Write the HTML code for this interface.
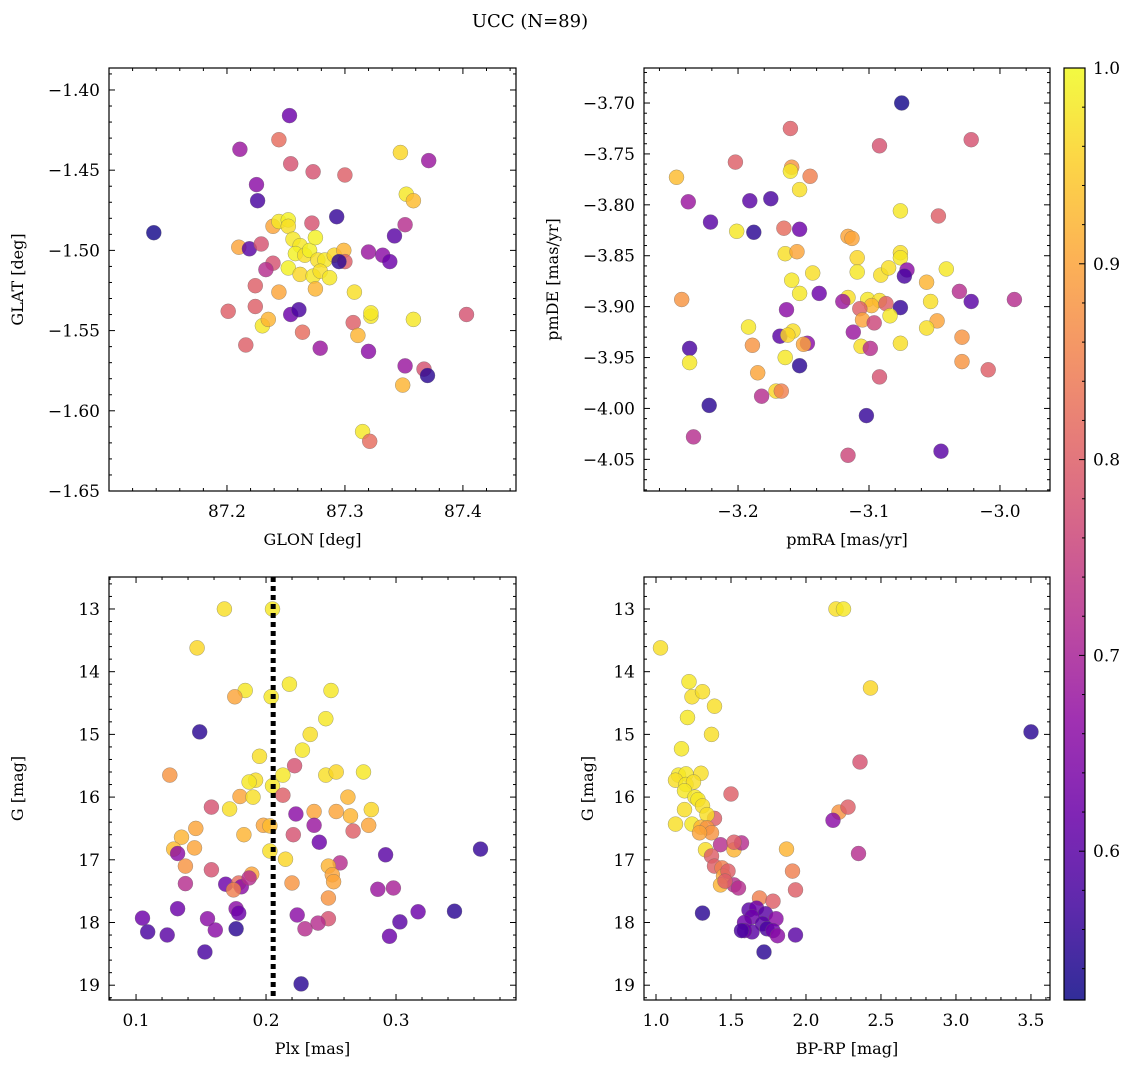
<!DOCTYPE html>
<html><head><meta charset="utf-8"><style>
body{margin:0;background:#fff;}
svg{display:block;font-family:"DejaVu Serif","Liberation Serif",serif;}
</style></head><body>
<svg id="fig" width="1136" height="1067" viewBox="0 0 1136 1067" xmlns="http://www.w3.org/2000/svg">
<text x="530" y="27" font-size="18" text-anchor="middle">UCC (N=89)</text>
</svg>
<script>
// ---- data (per panel) ----
const p1Glon=[87.138,87.211,87.253,87.244,87.254,87.225,87.226,87.273,87.300,87.347,87.371,87.352,87.358,87.293,87.272,87.239,87.244,87.252,87.252,87.210,87.219,87.229,87.239,87.233,87.224,87.224,87.201,87.230,87.235,87.216,87.244,87.254,87.261,87.264,87.279,87.256,87.262,87.258,87.266,87.270,87.277,87.283,87.252,87.262,87.273,87.279,87.287,87.291,87.275,87.299,87.275,87.300,87.295,87.320,87.332,87.338,87.342,87.351,87.307,87.322,87.322,87.311,87.358,87.308,87.320,87.349,87.351,87.367,87.370,87.403,87.315,87.321];
const p1Glat=[-1.489,-1.437,-1.416,-1.431,-1.446,-1.459,-1.469,-1.451,-1.453,-1.439,-1.444,-1.465,-1.469,-1.479,-1.483,-1.485,-1.482,-1.481,-1.485,-1.498,-1.499,-1.496,-1.508,-1.512,-1.522,-1.535,-1.538,-1.547,-1.543,-1.559,-1.526,-1.540,-1.537,-1.551,-1.561,-1.493,-1.497,-1.502,-1.503,-1.500,-1.506,-1.506,-1.511,-1.515,-1.516,-1.513,-1.517,-1.503,-1.492,-1.500,-1.524,-1.507,-1.507,-1.501,-1.503,-1.507,-1.491,-1.484,-1.545,-1.541,-1.539,-1.553,-1.543,-1.526,-1.563,-1.584,-1.572,-1.574,-1.578,-1.540,-1.613,-1.619];
const p1Prob=[.53,.68,.62,.82,.78,.66,.58,.78,.8,.96,.68,.98,.93,.56,.78,.9,.98,.99,.97,.9,.6,.78,.78,.72,.8,.8,.8,.98,.92,.8,.9,.62,.58,.82,.68,.98,.98,.99,.97,.99,.97,.98,.99,.96,.98,.97,.98,.96,.99,.92,.92,.8,.55,.68,.66,.62,.6,.72,.8,.98,.98,.92,.98,.97,.66,.92,.68,.78,.55,.78,.98,.82];

const p2Pmra=[-3.075,-3.160,-3.022,-3.092,-3.247,-3.202,-3.159,-3.145,-3.160,-3.153,-3.238,-3.191,-3.175,-3.221,-3.201,-3.188,-3.153,-3.165,-3.116,-3.113,-3.076,-3.047,-3.164,-3.155,-3.076,-3.076,-3.109,-3.091,-3.085,-3.109,-3.143,-3.071,-3.056,-3.041,-3.073,-3.159,-3.153,-3.138,-3.116,-3.120,-3.031,-3.022,-2.989,-3.101,-3.092,-3.098,-3.087,-3.076,-3.053,-3.243,-3.107,-3.105,-3.096,-3.084,-3.048,-3.163,-3.192,-3.056,-3.112,-3.168,-3.158,-3.162,-3.106,-3.189,-3.147,-3.150,-3.099,-3.076,-3.029,-3.237,-3.153,-3.164,-3.237,-3.029,-3.009,-3.185,-3.171,-3.167,-3.182,-3.092,-3.222,-3.102,-3.234,-3.116,-3.045];
const p2Pmde=[-3.700,-3.725,-3.736,-3.742,-3.773,-3.758,-3.763,-3.772,-3.767,-3.785,-3.797,-3.796,-3.794,-3.817,-3.826,-3.827,-3.824,-3.823,-3.831,-3.833,-3.806,-3.811,-3.848,-3.846,-3.847,-3.852,-3.852,-3.869,-3.862,-3.866,-3.867,-3.864,-3.876,-3.863,-3.870,-3.874,-3.887,-3.887,-3.891,-3.895,-3.885,-3.895,-3.893,-3.893,-3.894,-3.899,-3.897,-3.901,-3.895,-3.893,-3.902,-3.913,-3.916,-3.909,-3.914,-3.903,-3.920,-3.921,-3.925,-3.929,-3.924,-3.928,-3.939,-3.938,-3.936,-3.937,-3.941,-3.936,-3.930,-3.941,-3.958,-3.950,-3.955,-3.954,-3.962,-3.965,-3.983,-3.983,-3.988,-3.969,-3.997,-4.007,-4.028,-4.046,-4.042];
const p2Prob=[.53,.8,.78,.78,.93,.8,.88,.85,.98,.97,.68,.6,.58,.6,.98,.55,.62,.82,.9,.9,.98,.8,.97,.9,.97,.98,.96,.97,.97,.98,.97,.66,.92,.98,.58,.98,.98,.62,.97,.68,.72,.6,.72,.98,.97,.92,.8,.56,.97,.88,.8,.9,.76,.98,.9,.66,.98,.97,.68,.6,.97,.96,.97,.88,.66,.9,.72,.97,.88,.58,.55,.98,.98,.88,.8,.9,.96,.85,.72,.78,.55,.56,.72,.76,.6];

const p3Plx=[0.168,0.205,0.147,0.218,0.250,0.184,0.176,0.204,0.149,0.246,0.234,0.228,0.195,0.222,0.126,0.213,0.246,0.254,0.275,0.192,0.187,0.205,0.180,0.190,0.213,0.158,0.172,0.263,0.281,0.237,0.254,0.183,0.146,0.198,0.203,0.265,0.279,0.223,0.237,0.267,0.135,0.221,0.241,0.145,0.129,0.132,0.203,0.292,0.365,0.215,0.257,0.248,0.138,0.158,0.251,0.252,0.138,0.169,0.189,0.179,0.220,0.181,0.187,0.175,0.286,0.298,0.248,0.132,0.177,0.179,0.317,0.345,0.105,0.155,0.224,0.248,0.240,0.303,0.230,0.109,0.124,0.161,0.177,0.295,0.153,0.227];
const p3G=[13.0,13.0,13.62,14.2,14.3,14.3,14.4,14.4,14.96,14.75,15.0,15.25,15.35,15.5,15.65,15.65,15.65,15.6,15.6,15.73,15.76,15.82,15.99,16.0,15.97,16.16,16.19,16.0,16.2,16.23,16.23,16.6,16.5,16.45,16.46,16.3,16.45,16.27,16.45,16.54,16.64,16.6,16.72,16.81,16.83,16.9,16.86,16.92,16.83,16.99,17.05,17.1,17.1,17.16,17.24,17.35,17.38,17.39,17.23,17.37,17.37,17.43,17.29,17.48,17.47,17.45,17.61,17.78,17.78,17.85,17.83,17.82,17.93,17.94,17.88,17.94,18.01,17.99,18.1,18.15,18.2,18.12,18.1,18.22,18.47,18.98];
const p3Prob=[.97,.98,.96,.98,.98,.98,.9,.98,.55,.98,.97,.98,.97,.78,.88,.98,.97,.96,.98,.97,.98,.98,.9,.97,.8,.78,.97,.92,.96,.9,.9,.92,.9,.9,.93,.92,.9,.66,.68,.8,.92,.78,.62,.9,.93,.66,.97,.6,.56,.96,.72,.92,.88,.78,.9,.9,.72,.62,.9,.82,.88,.66,.72,.85,.68,.7,.88,.62,.66,.62,.62,.55,.62,.66,.66,.78,.72,.6,.72,.58,.6,.66,.55,.62,.58,.55];

const p4Bprp=[1.03,2.2,2.25,1.22,1.24,1.31,2.43,1.39,1.21,3.5,1.17,1.37,2.36,1.15,1.2,1.3,1.13,1.2,1.25,1.19,1.5,1.26,1.28,1.31,1.19,1.39,1.34,2.22,2.18,2.28,1.13,1.24,1.3,1.34,1.37,1.29,1.43,1.52,1.57,1.52,1.33,1.87,2.35,1.37,1.39,1.44,1.45,1.48,1.52,1.43,1.55,1.46,1.69,1.78,1.91,1.93,1.31,1.62,1.67,1.73,1.64,1.8,1.71,1.59,1.74,1.64,1.59,1.78,1.81,1.93,1.57,1.72];
const p4G=[13.62,13.0,13.0,14.16,14.4,14.32,14.26,14.55,14.73,14.96,15.23,15.0,15.44,15.65,15.63,15.62,15.73,15.8,15.76,15.9,15.95,16.0,16.04,16.14,16.2,16.34,16.28,16.24,16.37,16.16,16.43,16.43,16.48,16.49,16.57,16.57,16.76,16.84,16.73,16.72,16.84,16.83,16.9,16.94,17.1,17.13,17.26,17.18,17.4,17.4,17.45,17.34,17.61,17.66,17.18,17.48,17.85,17.8,17.77,17.86,17.91,17.94,18.02,18.0,18.1,18.15,18.13,18.13,18.21,18.2,18.13,18.47];
const p4Prob=[.97,.97,.98,.98,.97,.97,.96,.97,.98,.55,.98,.97,.78,.98,.98,.97,.97,.98,.97,.98,.8,.98,.98,.97,.97,.8,.97,.88,.66,.8,.97,.98,.92,.88,.88,.9,.72,.92,.72,.8,.97,.92,.72,.8,.8,.85,.9,.8,.72,.92,.72,.8,.85,.8,.85,.8,.55,.6,.62,.6,.62,.66,.6,.62,.58,.6,.62,.62,.66,.6,.58,.55];

const cbTicks=[0.6,0.7,0.8,0.9,1.0];
const VMIN=0.524, VMAX=1.0;

// ---- helpers ----
const NS="http://www.w3.org/2000/svg";
const svg=document.getElementById('fig');
function mk(tag,attrs,parent){const e=document.createElementNS(NS,tag);for(const k in attrs)e.setAttribute(k,attrs[k]);(parent||svg).appendChild(e);return e;}
const plasma=[[13,8,135],[65,4,157],[106,0,168],[143,13,164],[177,42,144],[204,71,120],[225,100,98],[242,132,75],[252,166,54],[252,206,37],[240,249,33]];
function cmap(v){let t=(v-VMIN)/(VMAX-VMIN);t=Math.max(0,Math.min(1,t))*10;const i=Math.min(9,Math.floor(t)),f=t-i;const a=plasma[i],b=plasma[i+1];return `rgb(${a.map((c,k)=>Math.round(c+(b[k]-c)*f)).join(',')})`;}
function fmt(v,d){const s=Math.abs(v).toFixed(d);return (v<-1e-9?'\u2212':'')+s;}
const FS=17;

function panel(o){
  const {x0,x1,y0,y1,xmin,xmax,ymin,ymax,name}=o;
  const sx=v=>x0+(v-xmin)/(xmax-xmin)*(x1-x0);
  const sy=v=>y0+(v-ymin)/(ymax-ymin)*(y1-y0);
  const g=mk('g',{});
  
  
  const pg=mk('g',{},g);
  
  
  for(let i=0;i<o.xs.length;i++){
    const c=mk('circle',{cx:sx(o.xs[i]).toFixed(1),cy:sy(o.ys[i]).toFixed(1),r:7.5,fill:cmap(o.cs[i]),'fill-opacity':0.82,stroke:'#666','stroke-width':0.5,'stroke-opacity':0.6},pg);
    
    
  }
  if(o.extra)o.extra(g,sx,sy);
  const fr=mk('rect',{x:x0,y:y0,width:x1-x0,height:y1-y0,fill:'none',stroke:'#000','stroke-width':1.2},g);
  
  
  const tg=mk('g',{stroke:'#000','stroke-width':1},g);
  const eps=1e-9;
  for(let v=Math.ceil(xmin/o.xminor-eps)*o.xminor;v<=xmax+eps;v+=o.xminor){
    const X=sx(v);const isMaj=Math.abs(v/o.xmajor-Math.round(v/o.xmajor))<1e-6;const L=isMaj?6:3;
    mk('line',{x1:X,y1:y1,x2:X,y2:y1-L},tg);mk('line',{x1:X,y1:y0,x2:X,y2:y0+L},tg);
    if(isMaj && X>x0+2 && X<x1-2){const t=mk('text',{x:X,y:y1+26,'font-size':FS,'text-anchor':'middle',stroke:'none'},g);t.textContent=fmt(Math.round(v/o.xmajor)*o.xmajor,o.xd);
      }
  }
  const ylo=Math.min(ymin,ymax),yhi=Math.max(ymin,ymax);
  for(let v=Math.ceil(ylo/o.yminor-eps)*o.yminor;v<=yhi+eps;v+=o.yminor){
    const Y=sy(v);const isMaj=Math.abs(v/o.ymajor-Math.round(v/o.ymajor))<1e-6;const L=isMaj?6:3;
    mk('line',{x1:x0,y1:Y,x2:x0+L,y2:Y},tg);mk('line',{x1:x1,y1:Y,x2:x1-L,y2:Y},tg);
    if(isMaj){const t=mk('text',{x:x0-9,y:Y+6,'font-size':FS,'text-anchor':'end',stroke:'none'},g);t.textContent=fmt(Math.round(v/o.ymajor)*o.ymajor,o.yd);
      }
  }
  const xl=mk('text',{x:(x0+x1)/2,y:y1+54,'font-size':16,'text-anchor':'middle'},g);xl.textContent=o.xlabel;
  
  const yl=mk('text',{x:0,y:0,'font-size':16,'text-anchor':'middle',transform:`translate(${o.ylx},${(y0+y1)/2}) rotate(-90)`},g);yl.textContent=o.ylabel;
  
}

panel({name:'glon-glat-panel',x0:109,x1:516,y0:68,y1:491,xmin:87.1,xmax:87.445,ymin:-1.3863,ymax:-1.65,xmajor:0.1,xminor:0.02,ymajor:0.05,yminor:0.01,xd:1,yd:2,xs:p1Glon,ys:p1Glat,cs:p1Prob,xlabel:'GLON [deg]',ylabel:'GLAT [deg]',ylx:23});
panel({name:'pm-panel',x0:644,x1:1050,y0:68,y1:491,xmin:-3.2718,xmax:-2.9618,ymin:-3.6656,ymax:-4.0811,xmajor:0.1,xminor:0.02,ymajor:0.05,yminor:0.01,xd:1,yd:2,xs:p2Pmra,ys:p2Pmde,cs:p2Prob,xlabel:'pmRA [mas/yr]',ylabel:'pmDE [mas/yr]',ylx:558});
panel({name:'plx-g-panel',x0:109,x1:516,y0:577,y1:1000,xmin:0.0792,xmax:0.3923,ymin:12.49,ymax:19.236,xmajor:0.1,xminor:0.02,ymajor:1,yminor:0.2,xd:1,yd:0,xs:p3Plx,ys:p3G,cs:p3Prob,xlabel:'Plx [mas]',ylabel:'G [mag]',ylx:23,
  extra:(g,sx,sy)=>{const l=mk('line',{x1:sx(0.2055),x2:sx(0.2055),y1:577,y2:1000,stroke:'#000','stroke-width':5,'stroke-dasharray':'5,4'},g);
    }});
panel({name:'cmd-panel',x0:644,x1:1050,y0:577,y1:1000,xmin:0.92,xmax:3.627,ymin:12.49,ymax:19.236,xmajor:0.5,xminor:0.1,ymajor:1,yminor:0.2,xd:1,yd:0,xs:p4Bprp,ys:p4G,cs:p4Prob,xlabel:'BP-RP [mag]',ylabel:'G [mag]',ylx:593});

(function(){
  const x0=1064,x1=1085,y0=68,y1=1000;
  const g=mk('g',{});
  
  
  const defs=mk('defs',{},g);
  const lg=mk('linearGradient',{id:'cbg',x1:0,y1:1,x2:0,y2:0},defs);
  for(let k=0;k<=20;k++){const v=VMIN+(VMAX-VMIN)*k/20;mk('stop',{offset:k/20,'stop-color':cmap(v),'stop-opacity':0.85},lg);}
  mk('rect',{x:x0,y:y0,width:x1-x0,height:y1-y0,fill:'url(#cbg)',stroke:'#000','stroke-width':1.2},g);
  const sy=v=>y1-(v-VMIN)/(VMAX-VMIN)*(y1-y0);
  for(let v=0.54;v<=1.0001;v+=0.02){const Y=sy(v);const maj=Math.abs(v*10-Math.round(v*10))<1e-6;
    mk('line',{x1:x1,y1:Y,x2:x1-(maj?6:3),y2:Y,stroke:'#000','stroke-width':1},g);}
  cbTicks.forEach(v=>{const t=mk('text',{x:x1+8,y:sy(v)+6,'font-size':FS},g);t.textContent=v.toFixed(1);
    });
})();
</script>
</body></html>
